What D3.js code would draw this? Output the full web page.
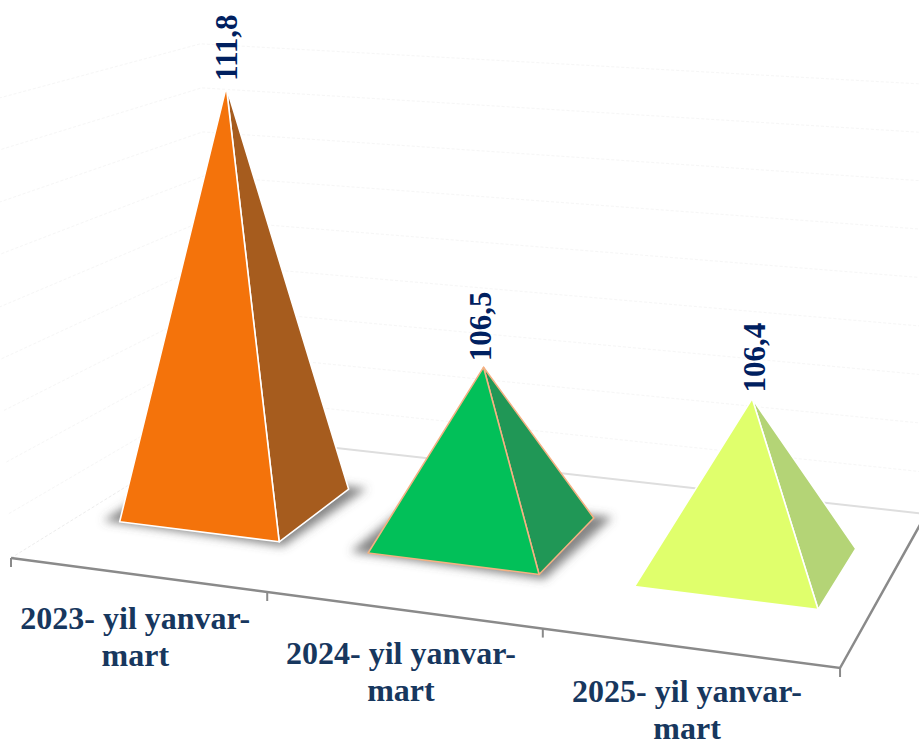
<!DOCTYPE html>
<html>
<head>
<meta charset="utf-8">
<script src="https://cdn.jsdelivr.net/npm/d3@7"></script>
<style>
html,body{margin:0;padding:0;background:#fff;}
svg{display:block;}
text{font-family:"Liberation Serif",serif;font-weight:bold;}
</style>
</head>
<body>
<svg id="chart" width="919" height="740"></svg>
<script>
const categories = ["2023- yil yanvar-|mart", "2024- yil yanvar-|mart", "2025- yil yanvar-|mart"];
const values = [111.8, 106.5, 106.4];
const valueLabels = ["111,8", "106,5", "106,4"];
const frontColors = ["#F4730B", "#02C059", "#E0FF6C"];
const sideColors = ["#A65C1E", "#209756", "#B4D476"];
const edgeColors = ["#FFFFFF", "#F4B183", "#FFFFFF"];
const hasShadow = [true, true, false];
const gridValues = [104, 105, 106, 107, 108, 109, 110, 111, 112];

const W = 919, H = 740;
const svg = d3.select("#chart");

// Floor homography (unit square to screen)
const g = -0.1054, h = 0.1721;
const a = 740.5, b = 236.3, c = 11, d = 39.6, e = -49.3, f = 558;
function floor(u, v) {
  const w = g * u + h * v + 1;
  return { x: (a * u + b * v + c) / w, y: (d * u + e * v + f) / w, w };
}
const uScale = d3.scaleBand().domain(categories).range([0, 1]).padding(0);
const heightScale = d3.scaleLinear().domain([103.14, 111.8]).range([0, 447]);
const vanishX = 483, lean = 1e-4;

function raise(p, value) {
  const hgt = heightScale(value) / p.w;
  return { x: p.x + (p.x - vanishX) * hgt * lean, y: p.y - hgt };
}
const pathOf = d3.line().x(q => q.x).y(q => q.y);

const defs = svg.append("defs");
const flt = defs.append("filter").attr("id", "shadow")
  .attr("x", "-30%").attr("y", "-30%").attr("width", "160%").attr("height", "160%");
flt.append("feGaussianBlur").attr("stdDeviation", 5);

// Wall gridlines
const wallCol = "#F6F6F6";
const bl = floor(0, 1), br = floor(1, 1), fl = floor(0, 0);
svg.append("g").selectAll("path").data(gridValues).join("path")
  .attr("fill", "none").attr("stroke", wallCol).attr("stroke-width", 1).attr("stroke-dasharray", "3 2")
  .attr("d", val => pathOf([raise(fl, val), raise(bl, val), raise(br, val)]));

// Floor outline
const axisCol = "#8A8A8A";
svg.append("path").attr("fill", "none").attr("stroke", "#EDEDED").attr("stroke-width", 1).attr("stroke-dasharray", "3 2")
  .attr("d", pathOf([floor(0, 0), floor(0, 1)]));
svg.append("path").attr("fill", "none").attr("stroke", "#DEDEDE").attr("stroke-width", 2)
  .attr("d", pathOf([floor(0, 1), floor(1, 1)]));
svg.append("path").attr("fill", "none").attr("stroke", axisCol).attr("stroke-width", 2.5)
  .attr("d", pathOf([floor(0, 0), floor(1, 0), floor(1, 1)]));

// Ticks
const tickPos = categories.map(k => uScale(k)).concat([1]);
svg.append("g").selectAll("line").data(tickPos).join("line")
  .attr("x1", u => floor(u, 0).x).attr("x2", u => floor(u, 0).x)
  .attr("y1", u => floor(u, 0).y).attr("y2", u => floor(u, 0).y + 9)
  .attr("stroke", axisCol).attr("stroke-width", 2);

// Pyramids
const vFront = 0.3, vBack = 0.703, widthShare = 0.325;
const labelNudge = [11, 7, 13];
const marks = svg.append("g").selectAll("g").data(categories).join("g");

marks.each(function (cat, i) {
  const sel = d3.select(this);
  const uc = uScale(cat) + uScale.bandwidth() / 2;
  const hw = uScale.bandwidth() * widthShare;
  const FL = floor(uc - hw, vFront), FR = floor(uc + hw, vFront);
  const BR = floor(uc + hw, vBack), BL = floor(uc - hw, vBack);
  const apex = raise(floor(uc, (vFront + vBack) / 2), values[i]);

  if (hasShadow[i]) {
    const sx = 0.021, sv = 0.02;
    const s = [floor(uc - hw - sx, vFront - sv * 0.3), floor(uc + hw + sx * 0.5, vFront - sv * 1.2),
               floor(uc + hw + sx, vBack + sv), floor(uc - hw - sx, vBack + sv)];
    sel.append("path").attr("d", pathOf(s) + "Z").attr("fill", "#555555")
      .attr("fill-opacity", 0.72).attr("filter", "url(#shadow)");
  }
  sel.append("path").attr("d", pathOf([FR, BR, apex]) + "Z")
    .attr("fill", sideColors[i]).attr("stroke", edgeColors[i]).attr("stroke-width", 1.6).attr("stroke-linejoin", "round");
  sel.append("path").attr("d", pathOf([FL, FR, apex]) + "Z")
    .attr("fill", frontColors[i]).attr("stroke", edgeColors[i]).attr("stroke-width", 1.6).attr("stroke-linejoin", "round");

  // Value label
  sel.append("text")
    .attr("transform", `translate(${apex.x + labelNudge[i]},${apex.y - 6}) rotate(-90)`)
    .attr("font-size", 31).attr("fill", "#002060").attr("text-anchor", "start")
    .text(valueLabels[i]);

  // Category label
  const front = floor(uc, 0);
  const t = sel.append("text").attr("font-size", 32).attr("fill", "#17375E").attr("text-anchor", "middle");
  cat.split("|").forEach((line, j) => {
    t.append("tspan").attr("x", front.x - 1.5).attr("y", front.y + 54 + j * 37).text(line);
  });
});
</script>
</body>
</html>
